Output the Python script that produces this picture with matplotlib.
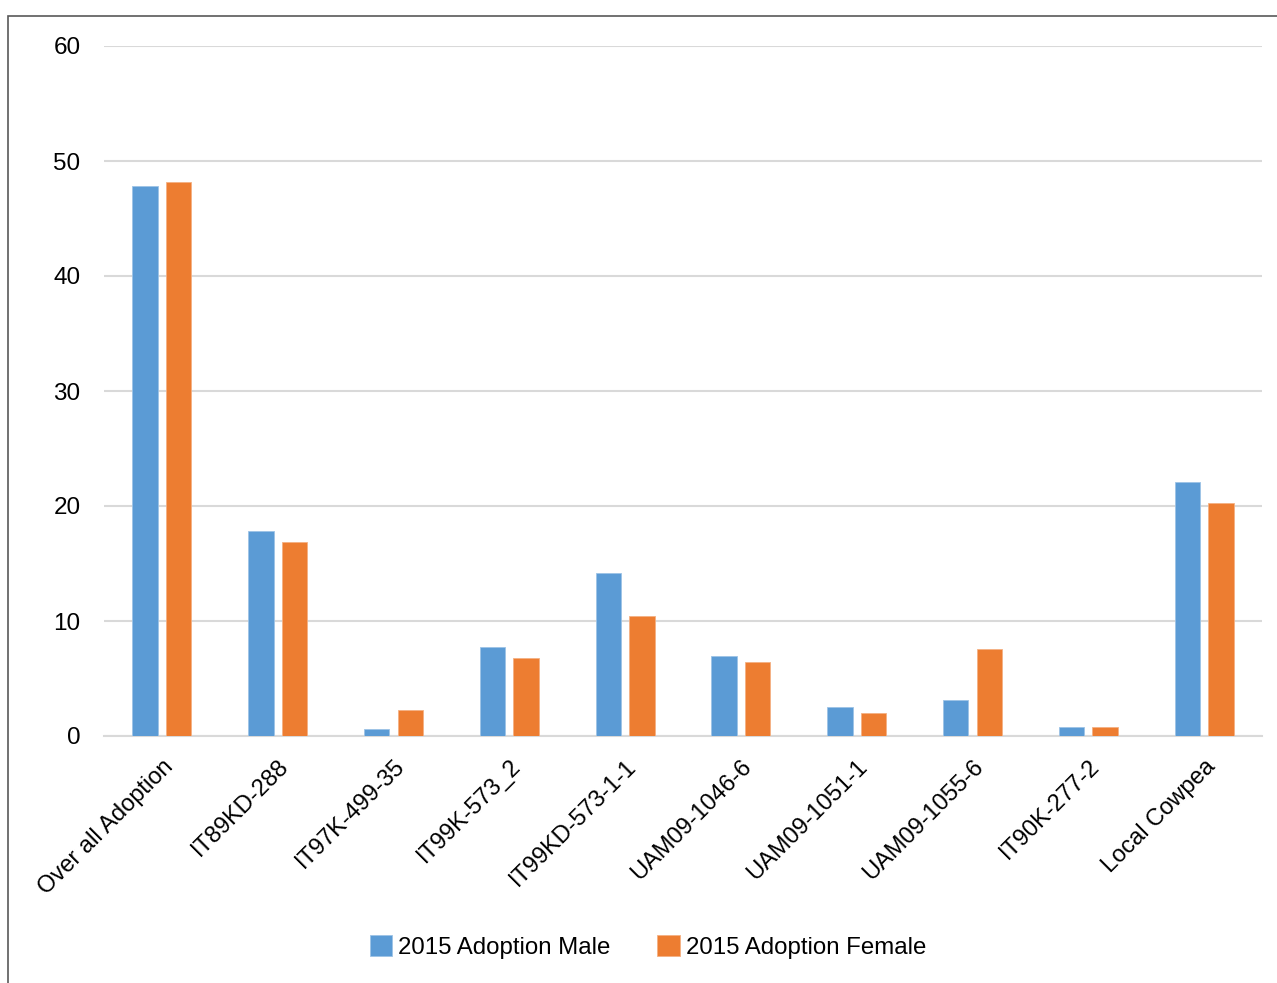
import numpy as np
import matplotlib.pyplot as plt
from matplotlib.patches import Rectangle

plt.rcParams['font.family'] = ['Liberation Sans', 'DejaVu Sans']

# 数据
categories = ['Over all Adoption', 'IT89KD-288', 'IT97K-499-35', 'IT99K-573_2',
              'IT99KD-573-1-1', 'UAM09-1046-6', 'UAM09-1051-1', 'UAM09-1055-6',
              'IT90K-277-2', 'Local Cowpea']
male = [47.8, 17.8, 0.6, 7.7, 14.2, 7.0, 2.5, 3.1, 0.8, 22.1]
female = [48.2, 16.9, 2.3, 6.8, 10.4, 6.4, 2.0, 7.6, 0.8, 20.3]
y_ticks = [0, 10, 20, 30, 40, 50, 60]

fig = plt.figure(figsize=(12.77, 9.83), dpi=100)
# 外框
fig.patches.append(Rectangle((8 / 1277, -0.1), 1.2, 1.1 - 16 / 983,
                             transform=fig.transFigure, fill=False,
                             edgecolor='#595959', linewidth=1.2))

ax = fig.add_axes([104 / 1277, 1 - 736 / 983, (1262 - 104) / 1277, (736 - 46) / 983])
x = np.arange(len(categories))
w = 0.22
ax.bar(x - 0.145, male, w, color='#5B9BD5', edgecolor='#9DC3E6', linewidth=0.6,
       label='2015 Adoption Male', zorder=3)
ax.bar(x + 0.145, female, w, color='#ED7D31', edgecolor='#F4B183', linewidth=0.6,
       label='2015 Adoption Female', zorder=3)

ax.set_xlim(-0.5, len(categories) - 0.5)
ax.set_ylim(0, 60)
ax.set_yticks(y_ticks)
ax.set_yticklabels([str(v) for v in y_ticks], fontsize=17.5)
ax.yaxis.grid(True, color='#D9D9D9', linewidth=1.5, zorder=0)
ax.set_axisbelow(True)
for s in ['top', 'right', 'left']:
    ax.spines[s].set_visible(False)
ax.spines['bottom'].set_color('#D9D9D9')
ax.spines['bottom'].set_linewidth(1.5)
ax.tick_params(axis='y', length=0, pad=17)
ax.tick_params(axis='x', length=0, pad=14)
ax.set_xticks(x)
ax.set_xticklabels(categories, rotation=45, ha='right', rotation_mode='anchor',
                   fontsize=17)

fig.legend(loc='center', bbox_to_anchor=(648 / 1277, 1 - 947 / 983), ncol=2,
           frameon=False, fontsize=17.3, handlelength=0.92, handleheight=0.92,
           handletextpad=0.25, columnspacing=1.95)

fig.savefig('out.png', dpi=100, facecolor='white')
